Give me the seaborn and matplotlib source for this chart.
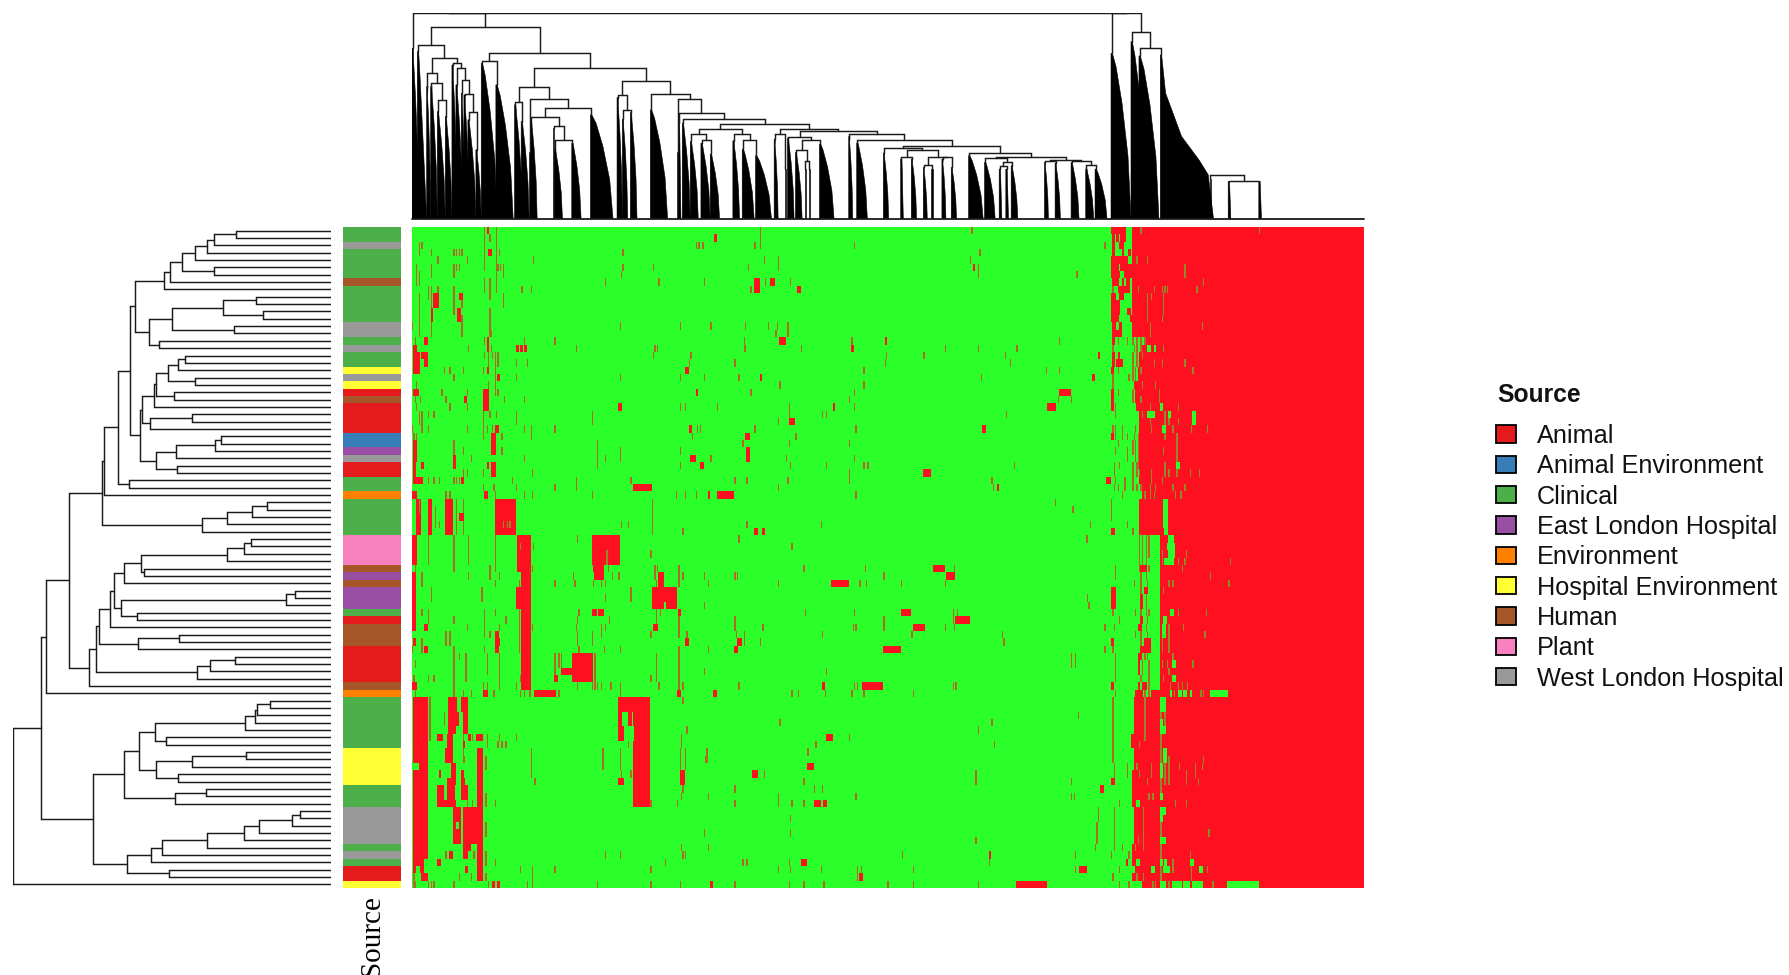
"""Heatmap de presence/absence avec dendrogrammes et annotation Source."""

import numpy as np
import matplotlib
matplotlib.use("Agg")
import matplotlib.pyplot as plt
from matplotlib.colors import LinearSegmentedColormap, ListedColormap
from matplotlib.patches import Patch
import seaborn as sns

W, H = 1789, 975
N_ROWS, N_COLS = 90, 715

source_names = ["Animal", "Animal Environment", "Clinical", "East London Hospital", "Environment",
                "Hospital Environment", "Human", "Plant", "West London Hospital"]
source_colors = ["#E41A1C", "#377EB8", "#4DAF4A", "#984EA3", "#FF7F00",
                 "#FFFF33", "#A65628", "#F781BF", "#999999"]
row_source = [2, 2, 8, 2, 2, 2, 2, 6, 2, 2,
              2, 2, 2, 8, 8, 2, 8, 2, 2, 5,
              8, 5, 0, 6, 0, 0, 0, 0, 1, 1,
              3, 8, 0, 0, 2, 2, 4, 2, 2, 2,
              2, 2, 7, 7, 7, 7, 6, 3, 6, 3,
              3, 3, 2, 0, 6, 6, 6, 0, 0, 0,
              0, 0, 6, 4, 2, 2, 2, 2, 2, 2,
              2, 5, 5, 5, 5, 5, 2, 2, 2, 8,
              8, 8, 8, 8, 2, 8, 2, 0, 0, 5]

# colonne ou commence le bloc rouge plein, par ligne
solid_from = [541, 541, 541, 541, 541, 532, 535, 541, 541, 541,
              541, 541, 541, 541, 541, 551, 548, 546, 546, 545,
              545, 542, 546, 543, 544, 546, 546, 546, 546, 546,
              546, 546, 546, 547, 546, 548, 548, 546, 546, 546,
              546, 546, 562, 562, 562, 562, 562, 562, 562, 562,
              562, 562, 562, 562, 562, 562, 562, 562, 562, 562,
              562, 562, 562, 555, 542, 542, 542, 542, 542, 540,
              540, 542, 542, 542, 541, 541, 541, 541, 541, 542,
              542, 542, 542, 542, 541, 541, 541, 543, 541, 548]

# (premiere ligne, derniere ligne, colonnes)
red_upper_left = [
    (0, 5, "54"), (0, 6, "63"), (0, 0, "56-57"), (1, 1, "58 227-228"), (2, 3, "5"),
    (2, 2, "7 213 215 218 257"), (3, 3, "14 31 33 35 37 57-59 65 158"), (4, 4, "19 41 91"),
    (5, 7, "3"), (5, 6, "14 31 68"), (5, 5, "33 35 64 66 158 181 252"), (6, 6, "157"), (6, 7, "5"),
    (7, 7, "145 185 219 58"), (7, 8, "54 63 257-260"), (8, 8, "19 254 82 89"), (8, 9, "12 58"),
    (8, 11, "14 31"), (9, 10, "16-19 68"), (9, 9, "35-37"), (9, 14, "5"), (10, 10, "37"),
    (11, 12, "14-15 34-36"), (11, 14, "58"), (12, 14, "37"), (13, 13, "0 156 201 224 250"),
    (13, 14, "14"), (14, 14, "59"), (15, 16, "2 56-57 249"), (15, 15, "9-11 54 84 107"),
    (16, 16, "1-3 42 59 78-79 81-82 84-85 123 182 184 250"), (17, 19, "1-5"),
    (17, 17, "7-11 54 60 181 209"), (17, 18, "57 62 64"), (18, 18, "9-11 78 86 208 242"),
    (19, 19, "24 28 38 53 56-57 205-207"), (19, 22, "62"),
    (20, 20, "31 64-65 78 156 201 219 245"), (21, 21, "3 57"),
    (22, 22, "1-4 22 41 64 213-214 254"), (22, 24, "53-57"), (23, 23, "2 6 25 39-40 69 84"),
    (24, 24, "3 28 41 155-157 201 205 229"), (25, 27, "7 53"), (25, 26, "5 78 135"),
    (25, 25, "12 16 58 63"), (27, 27, "0 12 41 56 60 62-64 84 107 208-209 214 216 257"),
    (27, 28, "89"), (28, 28, "1 3 53 67 210 250-253"), (28, 30, "59-62"), (29, 31, "1-3 31 139"),
    (29, 29, "248"), (30, 30, "38 67 201"), (30, 31, "156 251-253"),
    (31, 31, "44 84 145 209-212 224"), (31, 32, "31-32"), (32, 34, "1-2"),
    (32, 32, "7-8 56-57 139 201 216-218"), (32, 33, "59-62"), (33, 33, "38 41 53 90"),
    (34, 34, "1-7 12 16 20 31 33 35 37-38 75 164 242 251"), (34, 35, "123"),
    (35, 35, "53 61 78 107 166-179"),
    (36, 36, "0-3 25 28 54-56 62 84 90 135 198 205 213 222-223 229-241"),
    (37, 41, "3-6 12-14 25-30 33 38 62-77 180"), (38, 40, "17"), (40, 40, "20 157 162 251"),
    (39, 39, "35-38"), (41, 41, "203 257-259"), (42, 45, "0-3 12 42 135-155"),
    (42, 46, "31 62 79-88"), (42, 42, "124 245"), (43, 43, "91"), (44, 44, "179"),
    (46, 46, "2 58 90 136-143 147 182 184 200"),
]
red_lower_left = [
    (47, 54, "0-2"), (47, 47, "7 42 58 65 121 137-143 150 155 182 185-188 200 203 219 242 244"),
    (47, 48, "82-88"), (48, 48, "7 62 80 107 122 136 142 145 183 185-188 200 222"),
    (49, 50, "14 52 164"), (49, 51, "78-88 180-198"), (50, 50, "145"), (51, 51, "219"),
    (52, 52, "0 7 12 54 62 80 125 135-138 140-143 183 186 200-201"), (52, 62, "82-88"),
    (53, 53, "12 31 54 70 80 124 148 183 200 242"),
    (54, 54, "9-11 41 54 65 80 90 123 142 145 181-184 200 242"), (55, 56, "25 28 135"),
    (55, 55, "54 58 62-64 80 124 142 179 200 206 243 249"),
    (56, 56, "1-2 7 62-65 80 124 205-207 244-247 249"),
    (57, 57, "0 7 9-11 54 62-64 80 125 144 156 200 222 242-244"), (57, 63, "31"), (58, 58, "35"),
    (58, 61, "40 65 120-135 183"), (58, 60, "56 107 112"), (58, 59, "110 200"), (58, 62, "137"),
    (59, 59, "2"), (60, 60, "112-120 219 200"), (61, 61, "1 12 16 81 107-109 179 200"),
    (62, 62, "0-3 53 56 65 78 124 135 139 142 149 185 200 203 245"), (62, 63, "156"),
    (63, 63, "2 38 44 53-56 61 81 84 88 92-107 110 199-201 226-228"),
    (64, 78, "1-11"), (64, 69, "13"), (64, 65, "27-33 37-41 155-178"), (64, 64, "203"),
    (66, 67, "24 27-34 38-41 155-157 162-164 166-178"), (68, 68, "27-32 38-41 155-158 167-178 206"),
    (69, 69, "19-22 26-30 38 42-43 45 48-52 56 65 78 155-158 167-178 202"),
    (70, 70, "26-30 38-39 56 64 67 70 162 202"), (70, 78, "166-178"), (71, 72, "25-30 38"),
    (72, 72, "39 220"), (71, 79, "49-52"), (71, 74, "89"), (71, 73, "143 156 201 205"),
    (71, 72, "221"), (72, 73, "55"), (73, 75, "29-32"),
    (74, 74, "20-21 37-38 157 164 255-259"), (74, 75, "201-204"),
    (75, 75, "26-31 37-39 92 155-158"), (76, 77, "19-23 26-31 37-41"), (76, 76, "203 242"),
    (77, 77, "55 202 222"), (78, 78, "19-32 41 45 55 62 179 199 242"),
    (79, 83, "1-11 31-36 38-52"), (81, 82, "55"), (82, 82, "219"),
    (84, 84, "1-11 38-43 49-52 202 222"),
    (85, 85, "1-11 25 28-30 38-41 46 49-52 55 145 156 203 205"),
    (86, 86, "1-8 19-21 49-52 55 62 190 248 251"), (87, 87, "1-2 6-8 40-41 49-52 81 90 107 179"),
    (88, 88, "1 7-11 35 44 49-52 55 90"),
    (89, 89, "1 2 12 14 16 31 57 60-61 64-65 86 90 139 179 201 224-225 242"),
]
red_middle = [
    (0, 0, "420"), (0, 2, "261"), (2, 2, "332"), (3, 3, "426"), (4, 4, "264 419"), (4, 5, "275"),
    (5, 5, "421-422"), (5, 6, "425"), (6, 6, "499"), (7, 7, "265 269-272 284"), (8, 8, "289-291"),
    (13, 13, "267 274"), (13, 14, "282"), (14, 14, "273"), (15, 15, "276-280 330 355-356 486"),
    (16, 16, "292 330-331 400 425 454"), (17, 17, "356 384 445"), (18, 18, "355 449"),
    (19, 19, "339 476 486"), (20, 20, "261-262 427"), (21, 21, "276 339"), (22, 22, "332 486-494"),
    (23, 23, "328 485 495"), (24, 24, "283 316-317 332 477-483"), (25, 25, "283 308 311 446"),
    (26, 26, "275 283-287"), (27, 27, "333 428-430"), (28, 28, "288"), (29, 29, "283 328"),
    (31, 31, "281 332"), (32, 32, "284 311 339 342 452"), (33, 34, "328"), (33, 33, "384-389"),
    (34, 34, "282 435"), (35, 35, "275 436 439-440"), (36, 36, "333"), (37, 37, "483"),
    (38, 38, "496"), (40, 40, "307"), (41, 41, "263-264"), (42, 42, "507"), (43, 43, "285"),
    (46, 46, "294 340 391-399 407"), (47, 47, "354 401-407"),
    (48, 48, "275 315-327 336 341 367 400"), (51, 51, "508"), (52, 52, "295 332 367-374 406 409"),
    (53, 53, "354 406 408-418"), (54, 54, "263 331 333 354 376-384 400 407"),
    (55, 55, "308 375 443"), (56, 56, "261 444"), (57, 57, "354-366"), (58, 59, "495 498"),
    (60, 60, "311"), (62, 62, "308-309 332 334 338-353 406 408"),
    (63, 63, "285 290 310 330 339 376"), (66, 66, "500"), (67, 67, "276 435"), (68, 68, "425"),
    (69, 69, "311-315 328"), (70, 70, "303 437"), (71, 71, "297"), (73, 73, "297-301"),
    (74, 74, "264 423"), (75, 75, "294 423 495"), (76, 76, "302 308"), (77, 78, "275"),
    (77, 77, "333 495 497"), (78, 78, "285 294 302-306 309-311"), (80, 80, "284"), (82, 82, "284"),
    (83, 83, "423"), (85, 85, "368 433-434 498"), (86, 86, "283 292-296 433"),
    (87, 87, "275 284 307 334 337 376 498 501-506"), (88, 88, "334 336-338"),
    (89, 89, "283 294 309 357 376 425 454-476"),
]
red_right_edge = [
    (0, 0, "525-535"), (1, 1, "526-527 529-530 532-535"), (2, 2, "520 526-527 531-534"),
    (3, 3, "526-527 533-534 538-539"), (4, 4, "525-537"), (5, 5, "525-530"), (6, 6, "525-531"),
    (7, 7, "526-530 533-534 536-538"), (8, 8, "526 530-538"), (9, 9, "525-528 531-534"),
    (10, 10, "525-531"), (11, 11, "525-531 537-539"), (12, 12, "525-530 539-540"),
    (13, 13, "526-528 531-532"), (14, 14, "526-532"), (15, 15, "526-527 530 537 541 544 547 550"),
    (16, 16, "526 542 544 547"), (17, 17, "515-516 526-527 530-531 541 544"),
    (18, 18, "526-527 529-533 541 544"), (19, 19, "525-526 530 541 543"),
    (20, 20, "511-512 526 538 541 543"), (21, 21, "526"), (22, 22, "525-526 530 541 543-545"),
    (23, 23, "525-526 541"), (24, 24, "525-526 528"), (25, 25, "528"),
    (27, 27, "526 528 533 543"), (28, 28, "525-526 528 533 537 542 545"),
    (29, 29, "530 541 543 545"), (30, 30, "528 537 541 543 545"), (31, 31, "537 543 545"),
    (32, 32, "527 531 541 544 545"), (33, 33, "527 541 544 546"), (34, 34, "521-524 528 535 541"),
    (35, 35, "527 530 535 541 544 547"), (36, 36, "533"), (37, 39, "525"), (41, 41, "525-527 541"),
    (40, 40, "509 537"), (42, 46, "546 551"), (42, 45, "548"), (42, 44, "553"), (42, 42, "506"),
    (46, 46, "528 547-551 553"), (47, 47, "528 547 551"), (48, 48, "542 547 552"),
    (49, 49, "525-528 547 550-552"), (50, 51, "525-528 547-548 551"), (50, 50, "507"),
    (52, 52, "526 543 547 551 553"), (53, 53, "531 547-548 552"), (54, 54, "520 527 545-547 551"),
    (55, 55, "543 547 552"), (56, 56, "525-526 547 550-554"), (57, 57, "520 526 547-554"),
    (58, 58, "528 545-547 550 552"), (59, 60, "528 545-546 548 553"), (61, 61, "528 547 553"),
    (62, 62, "525-526 545-546 548-551 553"), (63, 63, "528 543-548 550 553"), (64, 72, "526"),
    (73, 74, "527 537"), (75, 75, "525-527"), (76, 76, "517-519"), (78, 78, "531"),
    (79, 80, "515 527"), (81, 83, "514 527"), (84, 84, "513 527 533"), (85, 85, "525 538"),
    (86, 86, "536-537"), (87, 87, "531"), (88, 88, "526"), (89, 89, "531 538"),
]
# trous verts dans les blocs rouges
green_holes = [
    (0, 0, "547 636"), (4, 4, "544 552"), (5, 6, "580"), (7, 7, "594"),
    (8, 8, "545 557 563 565 567 589"), (9, 11, "552 564"), (9, 9, "555"), (12, 12, "552 563"),
    (13, 13, "554 593"), (14, 14, "554"), (16, 16, "552-554 557-558 564"), (17, 17, "548"),
    (18, 18, "557 563 580"), (19, 19, "547 586"), (21, 21, "548 558"), (22, 22, "561"),
    (23, 23, "547 561"), (24, 24, "554 562-563 575"), (25, 25, "548 552-557 565 568-569 586-588"),
    (26, 26, "554 565 568 575 586-588"), (27, 27, "555 563-565 571 585 597"), (28, 28, "565 574"),
    (29, 29, "574"), (30, 30, "564 574"), (31, 31, "574"), (32, 32, "565 574-576"),
    (33, 33, "555 565 568 574 584 591"), (34, 34, "555 563"), (35, 35, "554 558 571 580"),
    (36, 36, "550 554 557 573 577"), (37, 40, "564-567"), (41, 41, "565-567"), (42, 42, "568-571"),
    (43, 43, "567-572"), (44, 44, "563 568-572 581"), (45, 45, "563 565-571 575 580 614"),
    (46, 46, "578"), (47, 47, "599"), (48, 48, "568 571 613"), (49, 49, "564"),
    (52, 52, "569-571 575 596"), (53, 53, "564-566"), (54, 54, "563-565 568 579"),
    (55, 55, "563-565 568 595"), (56, 57, "563 568"), (58, 58, "571"),
    (59, 59, "563 567 571-573 586"), (60, 60, "568"), (61, 61, "564 571-573"),
    (62, 62, "569 575 578 582"), (63, 63, "569-570 572 575-577 579-581 584-585 592 594 599-612"),
    (64, 65, "550 562-565"), (66, 66, "550 562 565"), (67, 67, "550 562-563 565"),
    (68, 68, "550 562-565"), (69, 69, "550 562"), (70, 70, "546 562"), (71, 71, "562 564-566"),
    (72, 72, "562 564-566 568 594"), (73, 73, "544 555 562-563 565 568 576 588 593"),
    (74, 74, "546 555 562-563 565 568 581 588"), (75, 75, "552 562 565 568 581 590"),
    (76, 76, "562"), (77, 77, "553 556 562-563"), (78, 78, "544-546 573 581"),
    (79, 79, "549 562-565"), (80, 80, "549 562-563"), (81, 81, "549 562"), (82, 82, "549 562 598"),
    (83, 83, "545 549 562-565"), (84, 84, "543 549 562"), (85, 85, "562 584"),
    (86, 86, "544-546 562-563 565-566 571 584-586"),
    (87, 87, "555-557 562 564-568 571 585 591-593 597"), (88, 88, "544 549 562 585"),
    (89, 89, "556 558 562-565 568 571-577 579-583 586-593 601 612-635"),
    # petits trous a gauche
    (37, 38, "5"), (40, 40, "68 71 73"), (43, 43, "81"), (44, 45, "146"), (51, 51, "189-190"),
    (73, 73, "0-4"), (81, 81, "33-34"),
]

# arbre des lignes : [hauteur, gauche, droite], 0 = feuille
c1 = [501, [482, [446, [407, [373, [351, [285, 0, 0], 0], 0], 0], [350, 0, 0]], 0], 0]
c2 = [547, [477, [325, [225, 0, 0], [204, 0, 0]], [290, 0, 0]], [517, 0, 0]]
c3 = [490, [459, [437, 0, 0], 0], [408, 0, 0]]
c4 = [530, [526, c3, [471, 0, 0]], 0]
c5 = [543, [417, 0, 0], 0]
c7 = [525, [465, [347, [331, 0, 0], 0], 0], [461, 0, 0]]
g3 = [603, [587, c1, c2], [573, [566, c4, c5], c7]]
g5 = [682, [639, g3, [607, 0, 0]], 0]
c8 = [386, [311, [238, [193, 0, 0], 0], 0], 0]
p1 = [313, [262, [241, 0, 0], 0], 0]
p3 = [622, [571, p1, [560, 0, 0]], 0]
p4 = [629, [136, [107, 0, 0], 0], [581, 0, 0]]
p7 = [696, [664, [652, p3, p4], 0], [578, [456, 0, 0], 0]]
p8 = [401, [363, [287, 0, 0], 0], 0]
p10 = [726, [706, p7, p8], 0]
b1 = [259, [228, [223, [184, 0, 0], 0], 0], 0]
b4 = [524, [416, [256, 0, 0], 0], [458, 0, 0]]
b7 = [620, [577, [528, b1, [495, 0, 0]], b4], [469, [375, 0, 0], 0]]
b8 = [540, [507, [373, [260, [215, [118, [94, 0, 0], 0], 0], 0], 0], 0], 0]
b10 = [715, b7, [612, b8, [485, 0, 0]]]
row_tree = [953, [871, [854, [786, [688, g5, c8], p10], 0], b10], 0]

# arbre des colonnes : les tuples sont les amas denses (col debut, col fin, hauteur, coudes...)
n300 = [358, (19, 25, 323), (25, 30, 308)]
n218 = [440, (11, 14, 398), [408, (14, 19, 398), n300]]
n337 = [321, (42, 48, 298), (48, 52, 208)]
n190 = [468, (30, 34, 463), [453, (33, 38, 403), [418, (37, 40, 378), [376, (39, 43, 373), n337]]]]
n135 = [523, (4, 11, 503, (6, 430), (8.5, 220)), [485, n218, n190]]
n182 = [476, (52, 64, 468), (63, 76, 403)]
n305 = [353, (77, 83, 343), (82, 88, 293)]
n380 = [278, (106, 107, 273), [238, (107, 113, 208), (120, 127, 228)]]
n325 = [333, [308, (89, 94, 300), n380], (134, 151, 313)]
n260 = [398, n305, [360, (88, 89, 200), n325]]
n285 = [373, (154, 158, 365), [328, (158, 162, 300), (164, 169, 320)]]
n403a = [255, (209, 215, 233), [236, (217, 224, 228), (224, 231, 195)]]
n403b = [255, (241, 246, 235), [238, (248, 257, 210), (258, 270, 190)]]
n450 = [208, (288, 293, 200), [175, (295, 296, 150), (298, 299, 150)]]
n412 = [246, (282, 287, 243), [236, n450, (306, 317, 225)]]
nq = [208, [186, (367, 369, 180), (375, 379, 180)],
      [186, [161, (384, 387, 155), (390, 391, 150)], [186, (398, 401, 180), (405, 409, 155)]]]
gc1 = [183, (430, 438, 170), [172, [160, (441, 443, 150), (446, 448, 150)], (450, 455, 160)]]
gc2 = [178, [173, (475, 478, 170), (483, 487, 168)],
       [173, (495, 501, 170), [161, (506, 512, 150), (513, 522, 150)]]]
np_ = [218, [212, (354, 358, 198), nq], [198, (418, 429, 190), [186, gc1, gc2]]]
na = [255, (328, 331, 248), [236, (334, 342, 228), np_]]
n388b = [270, [255, (272, 275, 240), (280, 281, 150)], [263, n412, na]]
n372 = [286, [270, n403a, n403b], n388b]
n338 = [320, (200, 202, 290), [300, (203, 209, 288), n372]]
n282b = [376, (179, 192, 328), [360, (199, 200, 200), n338]]
n158 = [500, n182, [453, n260, [415, n285, n282b]]]
big_ramp = (562, 602, 493, (566, 378), (578, 248), (591, 178), (598, 133))
col_tree = [620,
            [618, (0, 5, 513), [578, n135, n158]],
            [618, (525, 540, 498), [563, (540, 552, 533), [515, (546, 561, 490), big_ramp]]]]
col_tail = [133, (599, 600, 120), [113, (613, 615, 113), (636, 638, 113)]]
# profil moyen d'un amas : (part de la largeur, part de la hauteur)
clump_profile = [(0.25, 0.92), (0.55, 0.70), (0.85, 0.38)]


def read_spans(spec):
    """'3 5-7' -> [(3, 3), (5, 7)]"""
    out = []
    for part in spec.split():
        a, _, b = part.partition("-")
        out.append((int(a), int(b or a)))
    return out


def build_matrix():
    mat = np.zeros((N_ROWS, N_COLS))
    for r, start in enumerate(solid_from):
        mat[r, start:] = 1
    # une colonne isolee fait moins d'un pixel dans l'original : teinte melangee
    for r0, r1, spec in red_upper_left + red_lower_left + red_middle + red_right_edge:
        for a, b in read_spans(spec):
            val = 0.62 if a == b else 1
            mat[r0:r1 + 1, a:b + 1] = np.maximum(mat[r0:r1 + 1, a:b + 1], val)
    for r0, r1, spec in green_holes:
        for a, b in read_spans(spec):
            val = 0.5 if a == b else 0
            mat[r0:r1 + 1, a:b + 1] = np.minimum(mat[r0:r1 + 1, a:b + 1], val)
    return mat


def axes_px(fig, left, top, right, bottom):
    return fig.add_axes([left / W, 1 - bottom / H, (right - left) / W, (bottom - top) / H])


def draw_row_tree(ax, node, next_leaf):
    """Renvoie (y, hauteur) du noeud, les feuilles vont de haut en bas."""
    if node == 0:
        y = next_leaf[0] + 0.5
        next_leaf[0] += 1
        return y, 0
    h, left, right = node
    y1, h1 = draw_row_tree(ax, left, next_leaf)
    y2, h2 = draw_row_tree(ax, right, next_leaf)
    ax.plot([h1, h, h, h2], [y1, y1, y2, y2], color=LINE, lw=LW, solid_joinstyle="miter")
    return (y1 + y2) / 2, h


def draw_col_tree(ax, node):
    """Renvoie (x, hauteur) du noeud ; un tuple est un amas trop dense pour etre detaille."""
    if isinstance(node, tuple):
        c0, c1_, top, *knees = node
        if not knees and c1_ - c0 > 2:
            knees = [(c0 + fx * (c1_ - c0), fy * top) for fx, fy in clump_profile]
        xs = [c0, c0, c0 + 1] + [k[0] for k in knees] + [c1_]
        ys = [0, top, top] + [k[1] for k in knees] + [0]
        ax.fill(xs, ys, color="black", lw=0.4)
        return c0 + 0.5, top
    h, left, right = node
    x1, h1 = draw_col_tree(ax, left)
    x2, h2 = draw_col_tree(ax, right)
    ax.plot([x1, x1, x2, x2], [h1, h, h, h2], color=LINE, lw=LW, solid_joinstyle="miter")
    return (x1 + x2) / 2, h


LINE = "#1a1a1a"
LW = 1.05

sns.set_style("white")
plt.rcParams["font.family"] = ["Liberation Sans", "DejaVu Sans"]

fig = plt.figure(figsize=(W / 100, H / 100), dpi=100)

# heatmap principale
ax_heat = axes_px(fig, 412, 227, 1364, 888)
heat_cmap = LinearSegmentedColormap.from_list("gr", ["#2AFF2A", "#FF1020"])
sns.heatmap(build_matrix(), cmap=heat_cmap, vmin=0, vmax=1, cbar=False,
            xticklabels=False, yticklabels=False, ax=ax_heat)

# annotation Source
ax_ann = axes_px(fig, 343, 227, 401, 888)
sns.heatmap(np.array(row_source).reshape(-1, 1), cmap=ListedColormap(source_colors),
            vmin=-0.5, vmax=8.5, cbar=False, xticklabels=False, yticklabels=False, ax=ax_ann)
fig.text(372 / W, 1 - 936 / H, "Source", rotation=90, ha="center", va="center",
         family="Liberation Serif", fontsize=21, color="black")

# dendrogramme des lignes
ax_row = axes_px(fig, 13.3, 227, 331, 888)
draw_row_tree(ax_row, row_tree, [0])
ax_row.set_xlim(953, 0)
ax_row.set_ylim(N_ROWS, 0)
ax_row.axis("off")

# dendrogramme des colonnes
ax_col = axes_px(fig, 412, 12.7, 1364, 219)
draw_col_tree(ax_col, col_tree)
draw_col_tree(ax_col, col_tail)
ax_col.plot([0, N_COLS], [0, 0], color=LINE, lw=1.3, clip_on=False)
ax_col.set_xlim(0, N_COLS)
ax_col.set_ylim(0, 620)
ax_col.axis("off")

# legende
fig.text(1497 / W, 1 - 395 / H, "Source", ha="left", va="center",
         fontsize=17.7, fontweight="bold", color="#111111")
handles = [Patch(facecolor=c, edgecolor="black", lw=1.3) for c in source_colors]
fig.legend(handles, source_names, loc="upper left", bbox_to_anchor=(1496 / W, 1 - 424 / H),
           frameon=False, fontsize=18.2, labelcolor="#111111",
           handlelength=0.8, handleheight=0.68, handletextpad=0.82, labelspacing=0.25,
           borderpad=0, borderaxespad=0)

fig.savefig("out.png", dpi=100)
